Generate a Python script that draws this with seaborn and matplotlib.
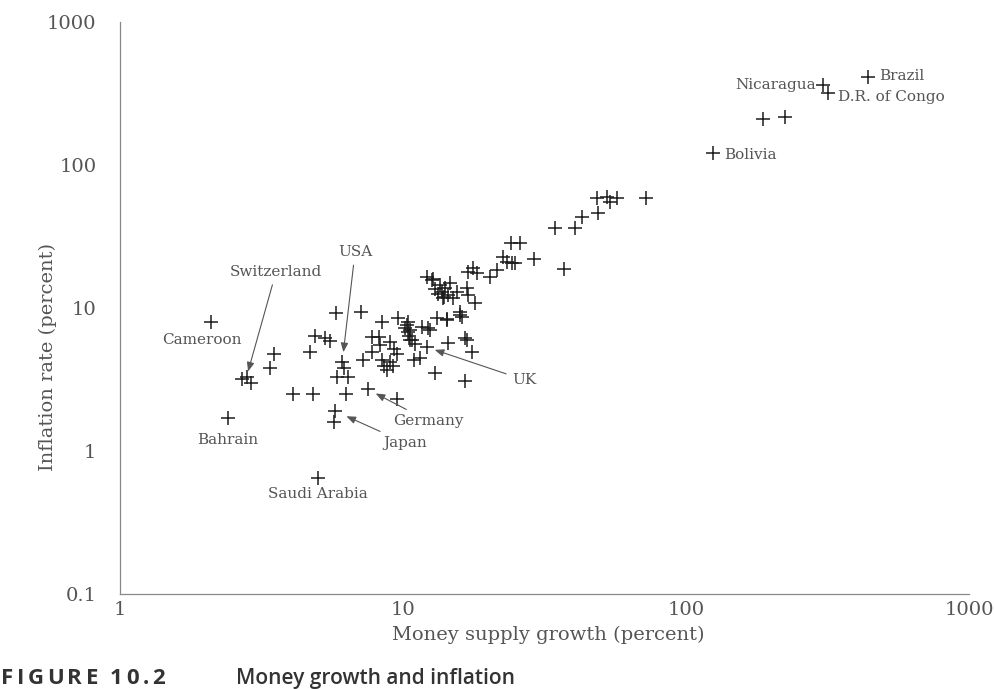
import matplotlib
matplotlib.use("Agg")
import matplotlib.pyplot as plt
from matplotlib.ticker import NullLocator
import pandas as pd
import seaborn as sns

# Countries that carry a name label
countries = ["Cameroon", "Switzerland", "Bahrain", "Saudi Arabia", "USA", "Germany",
             "Japan", "UK", "Nicaragua", "D.R. of Congo", "Brazil", "Bolivia"]
country_money_growth = [2.1, 2.8, 2.4, 5.0, 6.1, 7.5, 5.75, 12.2, 305, 318, 440, 125]
country_inflation = [8.0, 3.3, 1.7, 0.65, 4.2, 2.7, 1.9, 5.3, 360, 320, 410, 121]

# Remaining countries (money supply growth %, inflation %)
other_money_growth = [
    2.7, 2.9, 3.5, 3.4, 4.1, 4.8,
    5.8, 7.1, 4.9, 5.3, 5.5, 4.7, 5.85, 6.4, 6.2,
    6.3, 9.5, 5.7, 8.4, 9.6, 10.4, 10.6, 11.7,
    12.3, 13.2, 14.3, 15.9, 7.8, 8.2, 9.0, 10.6, 7.8, 8.4,
    9.0, 9.5, 8.8, 7.2, 10.9, 11.5, 14.4, 13.0, 16.6,
    16.8, 24, 26, 29, 22.6, 23.3, 24.3, 24.9, 21.5, 20.3,
    17.7, 17.0, 18.3, 12.2, 12.7, 14.7, 14.1, 13.7, 14.4, 15.0,
    13.8, 16.8, 17.0, 18.0, 15.9, 16.2, 14.3, 10.3, 10.8, 10.4,
    12.5, 16.6, 17.5, 48.5, 52.6, 54, 57, 72, 49, 43,
    40.5, 34.4, 37, 187, 224,
    13.0, 13.5, 14.0, 12.8, 15.5, 13.3, 10.2, 10.5, 11.0, 8.6, 9.2, 8.3, 9.3,
]
other_inflation = [
    3.2, 3.0, 4.8, 3.8, 2.5, 2.5,
    9.2, 9.4, 6.4, 6.2, 5.9, 4.9, 3.3, 3.3, 3.8,
    2.5, 2.3, 1.6, 8.0, 8.5, 8.0, 7.0, 7.4,
    7.2, 8.5, 8.4, 8.9, 6.3, 6.3, 5.8, 6.0, 4.9, 4.3,
    4.2, 4.8, 3.7, 4.3, 4.3, 4.5, 5.7, 3.5, 3.1,
    6.0, 28.5, 28.5, 22, 22.7, 21, 20.6, 20.6, 18.4, 16.5,
    19, 17.9, 17.6, 16.5, 15.7, 15.0, 13.8, 12.9, 12.3, 11.7,
    11.7, 13.8, 12.3, 10.8, 9.4, 8.6, 8.2, 7.6, 6.0, 6.8,
    7.0, 6.2, 4.9, 59, 60, 55, 59, 59, 46, 43,
    36, 36, 18.7, 210, 217,
    13.5, 14.5, 12.0, 16.0, 13.0, 12.5, 7.2, 6.4, 5.6, 3.9, 3.9, 5.5, 5.2,
]

x_ticks = [1, 10, 100, 1000]
x_tick_labels = ["1", "10", "100", "1000"]
y_ticks = [0.1, 1, 10, 100, 1000]
y_tick_labels = ["0.1", "1", "10", "100", "1000"]

df = pd.DataFrame({
    "growth": other_money_growth + country_money_growth,
    "inflation": other_inflation + country_inflation,
})

sns.set_theme(style="white")
plt.rcParams["font.family"] = ["DejaVu Serif"]

FIG_W, FIG_H = 995, 689
fig = plt.figure(figsize=(FIG_W / 100, FIG_H / 100), dpi=100)
fig.patch.set_facecolor("white")
ax = fig.add_axes([0.1206, 0.1379, 0.8533, 0.8302])

sns.scatterplot(data=df, x="growth", y="inflation", marker="+", s=115,
                color="#1c1c1c", linewidth=1.1, legend=False, ax=ax)

ax.set_xscale("log")
ax.set_yscale("log")
ax.set_xlim(1, 1000)
ax.set_ylim(0.1, 1000)
ax.set_xticks(x_ticks)
ax.set_xticklabels(x_tick_labels)
ax.set_yticks(y_ticks)
ax.set_yticklabels(y_tick_labels)
ax.xaxis.set_minor_locator(NullLocator())
ax.yaxis.set_minor_locator(NullLocator())

ax.tick_params(axis="both", direction="in", length=5, width=0.8, color="#777777",
               labelsize=14, labelcolor="#555555")
ax.tick_params(axis="y", pad=17)
ax.tick_params(axis="x", pad=5)

for side in ("top", "right"):
    ax.spines[side].set_visible(False)
for side in ("left", "bottom"):
    ax.spines[side].set_color("#888888")
    ax.spines[side].set_linewidth(0.9)

ax.set_xlabel("Money supply growth (percent)", fontsize=14, color="#555555")
ax.xaxis.set_label_coords(0.504, -0.055)
ax.set_ylabel("Inflation rate (percent)", fontsize=14, color="#555555")
ax.yaxis.set_label_coords(-0.074, 0.414)

label_style = dict(fontsize=11, color="#555555")

# Labels placed next to their marker (offset in points, alignment)
offset_labels = {
    "Cameroon": ((-6.5, -13), "center"),
    "Bahrain": ((0, -16), "center"),
    "Saudi Arabia": ((0, -12), "center"),
    "Nicaragua": ((-5, 0), "right"),
    "D.R. of Congo": ((7, -3), "left"),
    "Brazil": ((8, 1), "left"),
    "Bolivia": ((8, -1), "left"),
}
# Labels joined to their marker by an arrow (text position in data units, arrow gap)
arrow_labels = {
    "Switzerland": ((3.56, 17.9), 4),
    "USA": ((6.77, 24.6), 7),
    "Germany": ((12.3, 1.62), 6.5),
    "Japan": ((10.2, 1.14), 9),
    "UK": ((26.8, 3.14), 5.5),
}

for name, gx, iy in zip(countries, country_money_growth, country_inflation):
    if name in offset_labels:
        (dx, dy), ha = offset_labels[name]
        ax.annotate(name, xy=(gx, iy), xytext=(dx, dy), textcoords="offset points",
                    ha=ha, va="center", **label_style)
    else:
        pos, gap = arrow_labels[name]
        ax.annotate(name, xy=(gx, iy), xytext=pos, textcoords="data",
                    ha="center", va="center",
                    arrowprops=dict(arrowstyle="-|>,head_length=0.5,head_width=0.2",
                                    color="#555555", lw=0.8, shrinkA=2, shrinkB=gap),
                    **label_style)

caption_font = dict(family=["Open Sans", "DejaVu Sans"], weight="semibold",
                    fontsize=15, color="#333333", va="baseline")
figure_tag_font = dict(family=["Open Sans", "DejaVu Sans"], weight="bold",
                       fontsize=16, color="#333333", va="baseline")


def tracked_text(x_px, y_frac, text, tracking_px, **kw):
    """Draw a caption string letter by letter with extra letter spacing."""
    renderer = fig.canvas.get_renderer()
    x = x_px
    for ch in text:
        if ch == " ":
            x += 5 + tracking_px
            continue
        t = fig.text(x / FIG_W, y_frac, ch, **kw)
        x += t.get_window_extent(renderer).width + tracking_px


tracked_text(1, 0.0073, "FIGURE 10.2", 3.5, **figure_tag_font)
fig.text(0.237, 0.0073, "Money growth and inflation", **caption_font)

fig.savefig("out.png", dpi=100)
